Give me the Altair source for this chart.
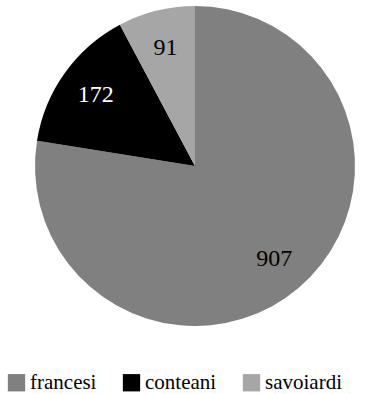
import altair as alt
import pandas as pd

categories = ["francesi", "conteani", "savoiardi"]
values = [907, 172, 91]
colors = ["#808080", "#000000", "#a6a6a6"]

df = pd.DataFrame({"category": categories, "value": values, "idx": list(range(len(categories)))})

base = alt.Chart(df).encode(
    theta=alt.Theta("value:Q", stack=True),
    order=alt.Order("idx:Q"),
    x=alt.value(195),
    y=alt.value(166),
)

arcs = base.mark_arc(radius=160, stroke=None).encode(
    color=alt.Color(
        "category:N",
        sort=categories,
        scale=alt.Scale(domain=categories, range=colors),
        legend=alt.Legend(
            title=None,
            orient="none",
            legendX=6,
            legendY=372,
            direction="horizontal",
            labelFont="Liberation Serif",
            labelFontSize=21,
            symbolType="square",
            symbolSize=300,
            symbolStrokeWidth=0,
            symbolOpacity=1,
            labelColor="#000000",
            labelOffset=3,
            columnPadding=24,
            labelLimit=300,
            padding=0,
        ),
    )
)

labels = base.mark_text(radius=122, font="Liberation Serif", fontSize=24).encode(
    text=alt.Text("value:Q"),
    color=alt.condition(alt.datum.category == "conteani", alt.value("white"), alt.value("black")),
)

chart = (
    alt.layer(arcs, labels)
    .properties(width=384, height=394, autosize=alt.AutoSizeParams(type="none"), padding=0, background="white")
    .configure(font="Liberation Serif", style={"guide-label": {"font": "Liberation Serif", "fontSize": 21}})
    .configure_view(stroke=None)
)

chart.save("out.html", embed_options={"renderer": "svg", "actions": False})
